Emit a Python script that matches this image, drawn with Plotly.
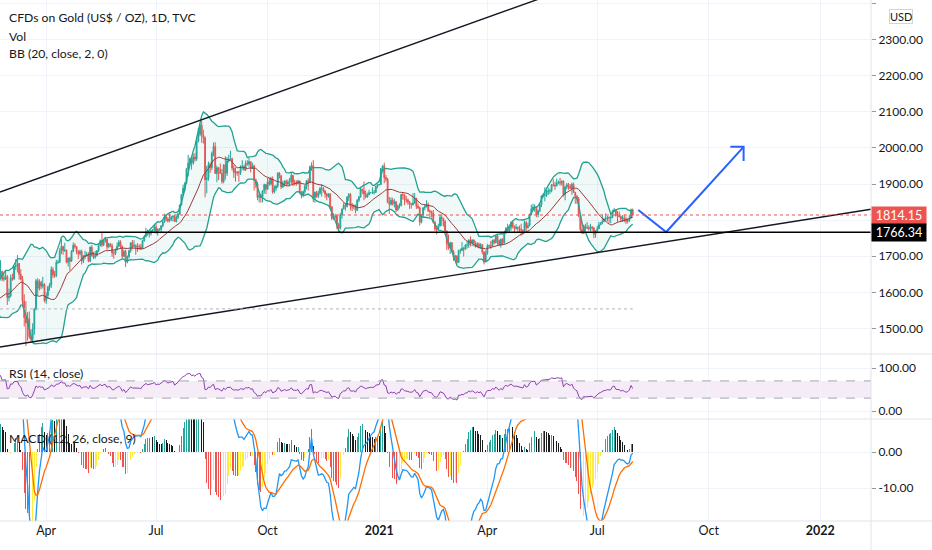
import numpy as np
import pandas as pd
import plotly.graph_objects as go

# ---------------- data (daily bars, TVC gold, weekdays from 2020-01-02) ----------------
FIRST_DAY = "2020-01-02"

OPEN = [
    1517,1528,1552,1566,1574,1556,1552,1562,1548,1545,1557,1552,1557,1560,1558,1558,1563,1571,1582,1567,1577,1576,
    1589,1576,1552,1556,1566,1570,1572,1567,1565,1576,1584,1581,1601,1611,1620,1643,1658,1636,1640,1643,
    1585,1590,1640,1637,1672,1673,1680,1649,1636,1576,1530,1515,1527,1477,1470,1498,1553,1632,1611,1628,1617,1622,
    1577,1591,1614,1620,1663,1648,1646,1683,1683,1714,1727,1716,1717,1683,1694,1686,1713,1730,1726,1713,1707,1713,
    1687,1700,1702,1705,1686,1725,1702,1697,1702,1715,1730,1743,1731,1745,1747,1726,1734,1729,1709,1708,1719,
    1728,1739,1727,1700,1713,1684,1699,1715,1737,1727,1729,1725,1727,1726,1722,1743,1754,1768,1761,1763,1771,1772,
    1781,1769,1775,1774,1784,1795,1809,1803,1798,1802,1809,1811,1796,1807,1817,1842,1871,1888,1902,1941,1958,1970,1958,
    1975,1969,2019,2038,2063,2035,2028,1912,1916,1954,1945,1985,2004,1929,1945,1940,1929,1907,1953,1930,1964,
    1968,1970,1944,1931,1934,1931,1931,1947,1947,1940,1957,1955,1962,1944,1950,1912,1900,1863,1868,1862,1881,1898,
    1886,1906,1900,1914,1878,1888,1894,1930,1922,1892,1902,1908,1900,1905,1907,1924,1904,1902,1902,1908,1878,1868,
    1879,1894,1909,1904,1948,1951,1862,1877,1866,1874,1888,1888,1881,1872,1866,1872,1837,1805,1810,1811,1788,
    1777,1815,1831,1841,1838,1864,1871,1839,1837,1840,1827,1855,1864,1886,1881,1872,1864,1870,1876,1876,1876,1877,1893,
    1898,1898,1943,1950,1918,1913,1849,1844,1855,1845,1851,1828,1840,1840,1871,1870,1856,1856,1850,1844,1843,
    1847,1860,1838,1834,1794,1814,1834,1838,1843,1826,1824,1819,1794,1775,1775,1784,1808,1805,1797,1770,
    1733,1723,1737,1712,1697,1700,1683,1716,1716,1722,1719,1731,1731,1745,1737,1745,1737,1726,1734,1726,1732,1712,1685,
    1708,1728,1729,1728,1744,1737,1756,1744,1732,1747,1736,1764,1777,1770,1779,1793,1783,1777,1780,1778,1774,1772,
    1769,1793,1779,1785,1815,1831,1836,1836,1815,1826,1843,1867,1869,1870,1877,1881,1881,1898,1897,1895,1903,
    1905,1903,1908,1871,1891,1898,1893,1888,1899,1877,1866,1859,1812,1774,1764,1783,1778,1779,1776,1781,1779,1761,
    1770,1776,1787,1791,1796,1803,1803,1808,1806,1807,1824,1828,1812,1812,1810,1803,1806,1802,1797,1799,1806,1828,
]
HIGH = [
    1530,1553,1611,1575,1611,1558,1563,1563,1549,1558,1558,1561,1563,1568,1561,1566,1573,1588,1583,1578,1590,1590,
    1592,1577,1562,1568,1574,1577,1574,1569,1579,1585,1586,1604,1612,1623,1649,1689,1660,1652,1661,1648,
    1610,1649,1652,1674,1692,1703,1681,1664,1645,1595,1575,1545,1547,1498,1514,1557,1637,1639,1636,1632,1643,1625,
    1600,1618,1626,1672,1670,1659,1690,1690,1722,1747,1729,1737,1718,1697,1698,1717,1738,1736,1728,1717,1718,1718,
    1703,1715,1712,1711,1727,1731,1712,1715,1717,1734,1746,1765,1746,1753,1748,1737,1736,1735,1715,1721,1738,
    1745,1744,1730,1718,1718,1702,1718,1739,1745,1744,1733,1736,1733,1734,1745,1757,1779,1774,1768,1772,1775,1786,
    1789,1777,1778,1786,1797,1818,1817,1808,1818,1812,1813,1814,1812,1821,1843,1872,1898,1905,1945,1981,1974,1975,1984,
    1986,2020,2055,2069,2075,2050,2032,1950,1962,1960,1990,2015,2016,1951,1947,1957,1942,1955,1977,1975,1981,
    1992,1973,1952,1946,1936,1937,1952,1966,1953,1965,1966,1973,1962,1959,1954,1915,1906,1877,1873,1882,1901,1900,
    1917,1917,1920,1921,1896,1898,1933,1933,1925,1909,1910,1912,1912,1917,1932,1925,1912,1910,1912,1910,1880,1882,
    1897,1911,1916,1951,1960,1966,1879,1881,1882,1892,1900,1892,1883,1876,1875,1875,1839,1819,1817,1815,1792,
    1820,1832,1848,1848,1866,1875,1875,1848,1844,1843,1858,1867,1891,1887,1907,1882,1876,1884,1878,1891,1884,1895,1900,
    1900,1944,1953,1959,1925,1917,1864,1863,1862,1858,1852,1843,1847,1872,1875,1871,1867,1860,1853,1848,1875,
    1875,1862,1846,1838,1816,1836,1844,1855,1849,1829,1826,1828,1797,1785,1790,1815,1816,1805,1799,1771,
    1760,1740,1739,1717,1704,1703,1718,1721,1739,1726,1733,1740,1747,1755,1747,1746,1741,1739,1738,1736,1733,1713,1716,
    1734,1732,1742,1746,1748,1758,1759,1746,1749,1750,1766,1781,1790,1782,1797,1798,1785,1789,1782,1785,1790,1774,
    1799,1798,1793,1818,1843,1845,1844,1838,1829,1845,1869,1875,1891,1884,1890,1887,1900,1913,1906,1915,1910,
    1917,1910,1910,1895,1903,1903,1900,1904,1904,1878,1870,1864,1815,1795,1787,1790,1795,1786,1790,1784,1780,1772,
    1784,1795,1795,1815,1806,1819,1811,1810,1820,1829,1834,1830,1825,1824,1812,1814,1815,1810,1804,1815,1832,1832,
]
LOW = [
    1517,1525,1552,1556,1553,1536,1549,1545,1535,1541,1548,1548,1556,1548,1550,1552,1555,1568,1563,1565,1571,1574,
    1574,1548,1548,1554,1561,1566,1563,1561,1563,1571,1578,1579,1598,1598,1619,1643,1631,1630,1634,1565,
    1575,1586,1632,1634,1662,1655,1635,1633,1560,1505,1451,1466,1471,1460,1463,1482,1550,1592,1605,1608,1611,1572,
    1568,1581,1604,1612,1640,1640,1642,1678,1681,1706,1704,1712,1680,1671,1660,1684,1711,1721,1705,1692,1702,1677,
    1681,1692,1699,1683,1684,1698,1692,1693,1699,1711,1727,1725,1728,1738,1718,1722,1725,1698,1693,1703,1716,
    1725,1721,1693,1697,1670,1680,1694,1710,1719,1724,1704,1712,1718,1717,1721,1740,1753,1757,1752,1757,1765,1768,
    1762,1757,1770,1767,1780,1793,1796,1793,1794,1797,1797,1795,1794,1803,1815,1840,1867,1880,1900,1921,1952,1940,1953,
    1962,1964,2015,2032,2014,2012,1863,1874,1909,1931,1938,1977,1929,1905,1911,1928,1901,1902,1912,1922,1959,
    1964,1937,1917,1907,1923,1906,1925,1939,1936,1936,1951,1948,1932,1942,1882,1889,1855,1849,1848,1849,1873,1872,
    1883,1895,1896,1873,1874,1881,1889,1915,1886,1889,1893,1894,1897,1895,1900,1894,1896,1895,1899,1872,1860,1863,
    1871,1885,1882,1903,1936,1850,1848,1862,1861,1871,1865,1876,1862,1855,1862,1831,1800,1801,1803,1775,1764,
    1774,1804,1830,1826,1835,1853,1827,1825,1830,1819,1826,1850,1862,1872,1855,1860,1862,1869,1874,1872,1871,1875,1888,
    1896,1898,1935,1902,1906,1847,1817,1840,1840,1835,1822,1826,1832,1838,1857,1841,1848,1842,1831,1832,1840,
    1845,1831,1831,1785,1791,1807,1827,1835,1822,1808,1807,1791,1770,1760,1770,1782,1784,1782,1765,1717,
    1718,1706,1710,1687,1687,1677,1682,1707,1714,1699,1719,1721,1723,1727,1728,1727,1724,1725,1722,1720,1705,1677,1684,
    1704,1725,1720,1726,1733,1736,1732,1728,1724,1733,1735,1762,1768,1765,1771,1777,1764,1773,1768,1765,1757,1760,
    1768,1770,1776,1782,1813,1826,1823,1808,1808,1822,1836,1862,1852,1864,1869,1872,1877,1893,1884,1893,1899,
    1895,1896,1865,1855,1885,1884,1886,1870,1875,1845,1845,1808,1768,1761,1761,1771,1775,1771,1768,1770,1750,1751,
    1766,1775,1786,1788,1795,1798,1796,1792,1791,1805,1823,1810,1794,1807,1794,1795,1794,1789,1791,1795,1805,1810,
]
CLOSE = [
    1528,1552,1566,1574,1556,1552,1562,1548,1545,1557,1552,1557,1560,1558,1558,1563,1571,1582,1567,1577,1576,1589,
    1576,1552,1556,1566,1570,1572,1567,1565,1576,1584,1581,1601,1611,1620,1643,1658,1636,1640,1643,1585,
    1590,1640,1637,1672,1673,1680,1649,1636,1576,1530,1515,1527,1477,1470,1498,1553,1632,1611,1628,1617,1622,1577,
    1591,1614,1620,1663,1648,1646,1683,1683,1714,1727,1716,1717,1683,1694,1686,1713,1730,1726,1713,1707,1713,1687,
    1700,1702,1705,1686,1725,1702,1697,1702,1715,1730,1743,1731,1745,1747,1726,1734,1729,1709,1708,1719,1728,
    1739,1727,1700,1713,1684,1699,1715,1737,1727,1729,1725,1727,1726,1722,1743,1754,1768,1761,1763,1771,1772,1781,
    1769,1775,1774,1784,1795,1809,1803,1798,1802,1809,1811,1796,1807,1817,1842,1871,1888,1902,1941,1958,1970,1958,1975,
    1969,2019,2038,2063,2035,2028,1912,1916,1954,1945,1985,2004,1929,1945,1940,1929,1907,1953,1930,1964,1968,
    1970,1944,1931,1934,1931,1931,1947,1947,1940,1957,1955,1962,1944,1950,1912,1900,1863,1868,1862,1881,1898,1886,
    1906,1900,1914,1878,1888,1894,1930,1922,1892,1902,1908,1900,1905,1907,1924,1904,1902,1902,1908,1878,1868,1879,
    1894,1909,1904,1948,1951,1862,1877,1866,1874,1888,1888,1881,1872,1866,1872,1837,1805,1810,1811,1788,1777,
    1815,1831,1841,1838,1864,1871,1839,1837,1840,1827,1855,1864,1886,1881,1872,1864,1870,1876,1876,1876,1877,1893,1898,
    1898,1943,1950,1918,1913,1849,1844,1855,1845,1851,1828,1840,1840,1871,1870,1856,1856,1850,1844,1843,1847,
    1860,1838,1834,1794,1814,1834,1838,1843,1826,1824,1819,1794,1775,1775,1784,1808,1805,1797,1770,1733,
    1723,1737,1712,1697,1700,1683,1716,1716,1722,1719,1731,1731,1745,1737,1745,1737,1726,1734,1726,1732,1712,1685,1708,
    1728,1729,1728,1744,1737,1756,1744,1732,1747,1736,1764,1777,1770,1779,1793,1783,1777,1780,1778,1774,1772,1769,
    1793,1779,1785,1815,1831,1836,1836,1815,1826,1843,1867,1869,1870,1877,1881,1881,1898,1897,1895,1903,1905,
    1903,1908,1871,1891,1898,1893,1888,1899,1877,1866,1859,1812,1774,1764,1783,1778,1779,1776,1781,1779,1761,1770,
    1776,1787,1791,1796,1803,1803,1808,1806,1807,1824,1828,1812,1812,1810,1803,1806,1802,1797,1799,1806,1828,1814.15,
]

# price levels / drawings
LAST_PRICE = 1814.15
SUPPORT_LEVEL = 1766.34
DOTTED_LEVEL = 1554
UPPER_TREND_X = ["2020-02-21 16:00", "2022-02-11 23:00"]
UPPER_TREND_Y = [1877.8, 2742]
LOWER_TREND_X = ["2020-02-21 16:00", "2022-02-11 23:00"]
LOWER_TREND_Y = [1448.5, 1830.0]
ARROW_X = ["2021-08-04 07:00", "2021-08-26 19:00", "2021-10-29 14:00"]
ARROW_Y = [1828, 1767, 2003]
ARROW_HEAD_X = ["2021-10-19 17:00", "2021-10-29 14:00", "2021-10-29 14:00"]
ARROW_HEAD_Y = [2003, 2003, 1964]

X_RANGE = ["2020-02-21 16:19", "2022-02-11 23:00"]
X_TICKS = ["2020-04-01", "2020-07-01", "2020-10-01", "2021-01-01",
           "2021-04-01", "2021-07-01", "2021-10-01", "2022-01-03"]
X_TICK_TEXT = ["Apr", "Jul", "Oct", "<b>2021</b>", "Apr", "Jul", "Oct", "<b>2022</b>"]
PRICE_TICKS = [1500, 1600, 1700, 1800, 1900, 2000, 2100, 2200, 2300, 2400]
PRICE_TICK_TEXT = ["1500.00", "1600.00", "1700.00", "", "1900.00", "2000.00",
                   "2100.00", "2200.00", "2300.00", "2400.00"]

# ---------------- indicators ----------------
n = min(len(OPEN), len(HIGH), len(LOW), len(CLOSE))
dates = pd.bdate_range(FIRST_DAY, periods=n)
o = pd.Series(OPEN[:n], index=dates, dtype=float)
h = pd.Series(HIGH[:n], index=dates, dtype=float)
l = pd.Series(LOW[:n], index=dates, dtype=float)
c = pd.Series(CLOSE[:n], index=dates, dtype=float)

basis = c.rolling(20).mean()
dev = c.rolling(20).std(ddof=0)
bb_up = basis + 2 * dev
bb_lo = basis - 2 * dev

ema12 = c.ewm(span=12, adjust=False).mean()
ema26 = c.ewm(span=26, adjust=False).mean()
macd = ema12 - ema26
signal = macd.ewm(span=9, adjust=False).mean()
hist = macd - signal
prev = hist.shift(1)
hist_colors = np.where(hist >= 0,
                       np.where(hist >= prev, "#26a69a", "#1b1b1b"),
                       np.where(hist < prev, "#ef5350", "#ffeb3b"))

delta = c.diff()
gain = delta.clip(lower=0)
loss = -delta.clip(upper=0)
ag = gain.ewm(alpha=1 / 14, adjust=False).mean()
al = loss.ewm(alpha=1 / 14, adjust=False).mean()
rsi = 100 - 100 / (1 + ag / al)

# ---------------- figure ----------------
UP = "#26a69a"
DOWN = "#ef5350"
GRID = "#f0f3fa"
SEP = "#e0e3eb"
TXT = "#131722"
FONT = "Lato"
PH = 521.0  # plot area height in px
PW = 871.0


def py(px):
    return 1 - px / PH


fig = go.Figure()

fig.add_trace(go.Scatter(x=dates, y=bb_up, mode="lines", line=dict(color="#22a18f", width=1.3),
                         hoverinfo="skip", xaxis="x", yaxis="y"))
fig.add_trace(go.Scatter(x=dates, y=bb_lo, mode="lines", line=dict(color="#22a18f", width=1.3),
                         fill="tonexty", fillcolor="rgba(38,166,154,0.07)",
                         hoverinfo="skip", xaxis="x", yaxis="y"))
fig.add_trace(go.Scatter(x=dates, y=basis, mode="lines", line=dict(color="#9b3a3a", width=1),
                         hoverinfo="skip", xaxis="x", yaxis="y"))
fig.add_trace(go.Candlestick(x=dates, open=o, high=h, low=l, close=c,
                             increasing=dict(line=dict(color=UP, width=1), fillcolor=UP),
                             decreasing=dict(line=dict(color=DOWN, width=1), fillcolor=DOWN),
                             whiskerwidth=0, hoverinfo="skip", xaxis="x", yaxis="y"))
fig.add_trace(go.Scatter(x=UPPER_TREND_X, y=UPPER_TREND_Y, mode="lines",
                         line=dict(color="#131722", width=1.4), xaxis="x", yaxis="y"))
fig.add_trace(go.Scatter(x=LOWER_TREND_X, y=LOWER_TREND_Y, mode="lines",
                         line=dict(color="#131722", width=1.4), xaxis="x", yaxis="y"))
fig.add_trace(go.Scatter(x=ARROW_X, y=ARROW_Y, mode="lines",
                         line=dict(color="#2962ff", width=2), xaxis="x", yaxis="y"))
fig.add_trace(go.Scatter(x=ARROW_HEAD_X, y=ARROW_HEAD_Y, mode="lines",
                         line=dict(color="#2962ff", width=2), xaxis="x", yaxis="y"))

# RSI
fig.add_trace(go.Scatter(x=dates, y=rsi, mode="lines", line=dict(color="#8e3fb0", width=1),
                         hoverinfo="skip", xaxis="x2", yaxis="y2"))

# MACD
fig.add_trace(go.Bar(x=dates, y=hist, marker=dict(color=hist_colors, line=dict(width=0)),
                     width=0.55 * 86400000, hoverinfo="skip", xaxis="x3", yaxis="y3"))
fig.add_trace(go.Scatter(x=dates, y=macd, mode="lines", line=dict(color="#2196f3", width=1.3),
                         hoverinfo="skip", xaxis="x3", yaxis="y3"))
fig.add_trace(go.Scatter(x=dates, y=signal, mode="lines", line=dict(color="#ff6d00", width=1.3),
                         hoverinfo="skip", xaxis="x3", yaxis="y3"))

xcommon = dict(type="date", range=X_RANGE, rangebreaks=[dict(bounds=["sat", "mon"])],
               tickmode="array", tickvals=X_TICKS, ticktext=X_TICK_TEXT,
               showgrid=True, gridcolor=GRID, gridwidth=1, zeroline=False, showline=False,
               ticks="", fixedrange=True, domain=[0, 1], rangeslider=dict(visible=False))
ycommon = dict(side="right", showgrid=True, gridcolor=GRID, zeroline=False, showline=False,
               ticks="outside", ticklen=4, tickcolor="#9598a1", fixedrange=True,
               tickfont=dict(family=FONT, size=12, color=TXT), tickmode="array")

fig.update_layout(
    width=932, height=550, autosize=False,
    margin=dict(l=0, r=61, t=0, b=29, pad=0),
    paper_bgcolor="white", plot_bgcolor="white",
    showlegend=False, bargap=0,
    font=dict(family=FONT, color=TXT),
    xaxis=dict(xcommon, anchor="y", showticklabels=False),
    xaxis2=dict(xcommon, anchor="y2", showticklabels=False, matches="x"),
    xaxis3=dict(xcommon, anchor="y3", showticklabels=True, matches="x",
                tickfont=dict(family=FONT, size=12.5, color=TXT)),
    yaxis=dict(ycommon, anchor="x", domain=[py(354), 1], range=[1429.1, 2409.7],
               tickvals=PRICE_TICKS, ticktext=PRICE_TICK_TEXT),
    yaxis2=dict(ycommon, anchor="x2", domain=[py(419), py(354)], range=[-18.6, 132.6],
                tickvals=[0, 100], ticktext=["0.00", "100.00"]),
    yaxis3=dict(ycommon, anchor="x3", domain=[0, py(419)], range=[-19.1, 9.2],
                tickvals=[-10, 0], ticktext=["-10.00", "0.00"]),
)

shapes = []
# RSI band and dashed levels
shapes.append(dict(type="rect", xref="x2 domain", yref="y2", x0=0, x1=1, y0=30, y1=70,
                   fillcolor="rgba(156,39,176,0.09)", line=dict(width=0), layer="below"))
for lvl in (70, 30):
    shapes.append(dict(type="line", xref="x2 domain", yref="y2", x0=0, x1=1, y0=lvl, y1=lvl,
                       line=dict(color="#a3a6af", width=1, dash="dash")))
# price lines
shapes.append(dict(type="line", xref="x domain", yref="y", x0=0, x1=1, y0=LAST_PRICE, y1=LAST_PRICE,
                   line=dict(color=DOWN, width=1, dash="dot")))
shapes.append(dict(type="line", xref="x domain", yref="y", x0=0, x1=1, y0=SUPPORT_LEVEL, y1=SUPPORT_LEVEL,
                   line=dict(color="#000000", width=1.6)))
shapes.append(dict(type="line", xref="x", yref="y", x0=X_RANGE[0], x1=str(dates[-1].date()),
                   y0=DOTTED_LEVEL, y1=DOTTED_LEVEL, line=dict(color="#b2b5be", width=1, dash="dot")))
# pane separators and scale border
for ypx in (354, 419, 521):
    shapes.append(dict(type="line", xref="paper", yref="paper", x0=0, x1=932 / PW,
                       y0=py(ypx), y1=py(ypx), line=dict(color=SEP, width=1)))
shapes.append(dict(type="line", xref="paper", yref="paper", x0=1, x1=1, y0=py(550), y1=1,
                   line=dict(color=SEP, width=1)))
fig.update_layout(shapes=shapes)

ann = []
legend_lines = [("CFDs on Gold (US$ / OZ), 1D, TVC", 18), ("Vol", 36), ("BB (20, close, 2, 0)", 53),
                ("RSI (14, close)", 373), ("MACD (12, 26, close, 9)", 438)]
for txt, ypx in legend_lines:
    ann.append(dict(text=txt, xref="paper", yref="paper", x=7 / PW, y=py(ypx), xanchor="left",
                    yanchor="middle", showarrow=False, font=dict(family=FONT, size=12.2, color=TXT)))
ann.append(dict(text=f"{LAST_PRICE:.2f}", xref="paper", yref="y", x=1, y=LAST_PRICE, xanchor="left",
                yanchor="middle", showarrow=False, bgcolor=DOWN, width=51, height=14, borderpad=1.5,
                font=dict(family=FONT, size=12.5, color="white")))
ann.append(dict(text=f"{SUPPORT_LEVEL:.2f}", xref="paper", yref="y", x=1, y=SUPPORT_LEVEL, xanchor="left",
                yanchor="middle", showarrow=False, bgcolor="#000000", width=51, height=14, borderpad=1.5,
                font=dict(family=FONT, size=12.5, color="white")))
ann.append(dict(text="USD", xref="paper", yref="paper", x=901 / PW, y=py(16.5), xanchor="center",
                yanchor="middle", showarrow=False, bgcolor="white", bordercolor="#d1d4dc",
                borderwidth=1, borderpad=0, font=dict(family=FONT, size=11, color=TXT)))
fig.update_layout(annotations=ann)

fig.write_html("out.html", config={"displayModeBar": False, "staticPlot": True},
               post_script="document.body.style.margin='0';")
